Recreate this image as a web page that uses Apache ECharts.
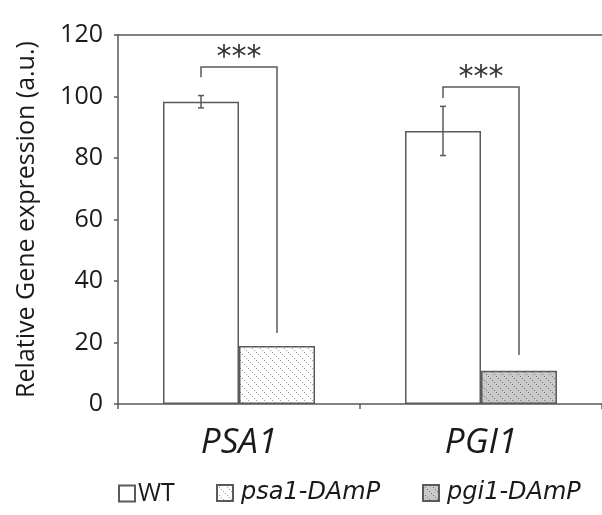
<!DOCTYPE html>
<html><head><meta charset="utf-8">
<script src="https://cdn.jsdelivr.net/npm/echarts@6/dist/echarts.min.js"></script>
<style>html,body{margin:0;padding:0;background:#fff}#c{width:602px;height:515px}</style>
</head><body><div id="c"></div>
<script>
var categories = ['PSA1', 'PGI1'];
var wtValues = [98.3, 88.8];
var wtErrors = [2.0, 8.0];
var psa1Values = [18.9, '-'];
var pgi1Values = ['-', 10.8];
var yTicks = [0, 20, 40, 60, 80, 100, 120];
// significance brackets: [categoryIndex, topValue, leftLegBottom, rightLegBottom]
var brackets = [[0, 109.6, 106.3, 23.1], [1, 103.1, 99.5, 15.9]];
var sigLabels = ['***', '***'];
var legendNames = ['WT', 'psa1-DAmP', 'pgi1-DAmP'];

var LINE = '#5a5a5a';
var TXT = '#1a1a1a';
var BARW = 76;
var FONT = 'Open Sans';

function makePattern(bg, fg, alpha) {
  var s = 8;
  var cv = document.createElement('canvas');
  cv.width = s; cv.height = s;
  var ctx = cv.getContext('2d');
  ctx.fillStyle = bg; ctx.fillRect(0, 0, s, s);
  ctx.fillStyle = fg;
  ctx.globalAlpha = alpha;
  for (var i = 0; i < s; i += 2) {
    ctx.fillRect(i, i, 1, 1);
  }
  return cv;
}
var psaPat = { image: makePattern('#ffffff', '#8c8c8c', 0.8), repeat: 'repeat' };
var pgiPat = { image: makePattern('#c9c9c9', '#6a6a6a', 0.9), repeat: 'repeat' };

function legendAt(left, idx) {
  var italic = idx !== 0;
  return {
    left: left, top: 481, padding: 0,
    itemWidth: 16, itemHeight: 16, itemGap: 10,
    icon: 'rect',
    textStyle: { fontFamily: italic ? 'DejaVu Sans' : FONT, fontSize: italic ? 24 : 25, color: TXT,
                 padding: [0, 0, 0, italic ? 3 : -2],
                 fontStyle: italic ? 'italic' : 'normal' },
    data: [legendNames[idx]]
  };
}

var chart = echarts.init(document.getElementById('c'), null, { renderer: 'canvas' });
chart.setOption({
  animation: false,
  textStyle: { fontFamily: FONT, color: TXT },
  grid: { left: 118, right: -4, top: 35, bottom: 111, containLabel: false },
  legend: [legendAt(118, 0), legendAt(216, 1), legendAt(422, 2)],
  xAxis: [{
    type: 'category', data: categories,
    axisLine: { lineStyle: { color: LINE, width: 1.5 } },
    axisTick: { show: true, length: 5, lineStyle: { color: LINE, width: 1.5 } },
    axisLabel: { fontFamily: FONT, fontSize: 35, fontStyle: 'italic', color: TXT, margin: 22 }
  }, {
    type: 'category', data: categories, position: 'top',
    axisLine: { lineStyle: { color: LINE, width: 1.5 } },
    axisTick: { show: false }, axisLabel: { show: false }
  }],
  yAxis: {
    type: 'value', min: 0, max: 120, interval: 20,
    name: 'Relative Gene expression (a.u.)',
    nameLocation: 'middle', nameGap: 79, nameRotate: 90,
    nameTextStyle: { fontFamily: FONT, fontSize: 25, color: TXT },
    axisLine: { show: true, lineStyle: { color: LINE, width: 1.5 } },
    axisTick: { show: true, length: 4, lineStyle: { color: LINE, width: 1.5 } },
    splitLine: { show: false },
    axisLabel: { fontFamily: FONT, fontSize: 25, color: TXT, margin: 15,
      formatter: function (v) { return yTicks.indexOf(v) >= 0 ? String(v) : ''; } }
  },
  series: [{
    name: 'WT', type: 'bar', data: wtValues, barWidth: BARW, barGap: '0%',
    itemStyle: { color: '#ffffff', borderColor: LINE, borderWidth: 1.5 }
  }, {
    name: 'psa1-DAmP', type: 'bar', data: psa1Values, stack: 'mut', barWidth: BARW,
    itemStyle: { color: psaPat, borderColor: LINE, borderWidth: 1.5 }
  }, {
    name: 'pgi1-DAmP', type: 'bar', data: pgi1Values, stack: 'mut', barWidth: BARW,
    itemStyle: { color: pgiPat, borderColor: LINE, borderWidth: 1.5 }
  }, {
    type: 'custom', silent: true, z: 5,
    data: wtValues.map(function (v, i) { return [i, v, wtErrors[i]]; }),
    renderItem: function (params, api) {
      var c = api.coord([api.value(0), api.value(1)]);
      var x = c[0] - BARW / 2;
      var hi = api.coord([api.value(0), api.value(1) + api.value(2)])[1];
      var lo = api.coord([api.value(0), api.value(1) - api.value(2)])[1];
      var st = { stroke: LINE, lineWidth: 1.5 };
      return { type: 'group', children: [
        { type: 'line', shape: { x1: x, y1: hi, x2: x, y2: lo }, style: st },
        { type: 'line', shape: { x1: x - 3, y1: hi, x2: x + 3, y2: hi }, style: st },
        { type: 'line', shape: { x1: x - 3, y1: lo, x2: x + 3, y2: lo }, style: st }
      ]};
    }
  }, {
    type: 'custom', silent: true, z: 5,
    data: brackets,
    renderItem: function (params, api) {
      var ci = api.value(0);
      var c = api.coord([ci, api.value(1)]);
      var xl = c[0] - BARW / 2, xr = c[0] + BARW / 2;
      var yt = c[1];
      var yl = api.coord([ci, api.value(2)])[1];
      var yr = api.coord([ci, api.value(3)])[1];
      return { type: 'group', children: [
        { type: 'polyline', shape: { points: [[xl, yl], [xl, yt], [xr, yt], [xr, yr]] },
          style: { stroke: LINE, lineWidth: 1.5, fill: null } },
        { type: 'text', x: c[0], y: yt + 6,
          style: { text: sigLabels[params.dataIndex], fontFamily: 'DejaVu Sans', fontSize: 30,
                   fill: '#333', align: 'center', verticalAlign: 'bottom' } }
      ]};
    }
  }]
});
</script></body></html>
